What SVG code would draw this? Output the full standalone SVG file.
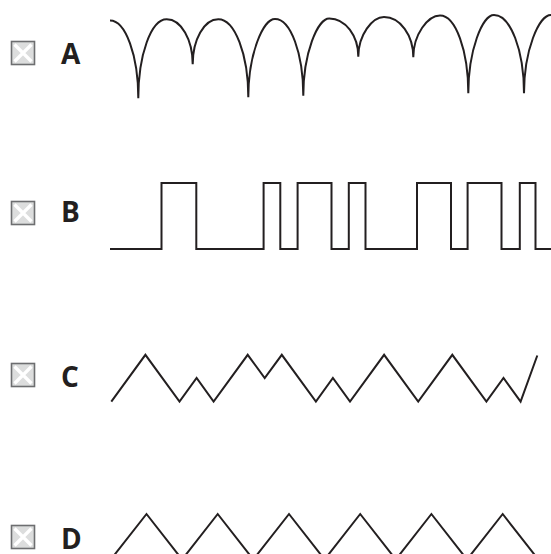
<svg xmlns="http://www.w3.org/2000/svg" width="551" height="554" viewBox="0 0 551 554">
<defs>
<style>
.wave{fill:none;stroke:#231f20;stroke-width:2;stroke-linejoin:miter}
.lbl{font-family:"Open Sans","Noto Sans","Liberation Sans",sans-serif;font-weight:700;font-size:28px;fill:#231f20}
.box{fill:#dcdddd;stroke:#6d6e70;stroke-width:1.6}
.x{stroke:#ffffff;stroke-width:3.2;stroke-linecap:butt}
</style>
<g id="cb">
<rect class="box" x="0" y="0" width="23" height="23"/>
<path class="x" d="M3,3 L20,20 M20,3 L3,20"/>
</g>
</defs>
<g id="optA">
<use href="#cb" x="11.5" y="41.5"/>
<text class="lbl" x="61" y="64">A</text>
</g>
<g id="optB">
<use href="#cb" x="11.5" y="201.5"/>
<text class="lbl" x="61" y="222">B</text>
</g>
<g id="optC">
<use href="#cb" x="11.5" y="363.5"/>
<text class="lbl" x="61" y="387">C</text>
</g>
<g id="optD">
<use href="#cb" x="11.5" y="525.5"/>
<text class="lbl" x="61" y="549">D</text>
</g>
<g id="waves">
<path id="waveA" class="wave" d="M110,20.5 C125.6,20.5 138.3,55.5 138.3,98.3 C138.3,54.9 151.1,19.3 166.7,19.3 C181,19.3 192.7,39.5 192.7,64.3 C192.7,39.5 204.2,19.3 218.3,19.3 C234.8,19.3 248.3,54.4 248.3,97.3 C248.3,54.2 263,19 275,19 C290.6,19 303.3,53.5 303.3,95.7 C303.3,53.2 317.6,18.5 329.3,18.5 C345.3,18.5 358.3,35.7 358.3,56.7 C358.3,34.9 372.4,17 384,17 C400.1,17 413.3,35.1 413.3,57.3 C413.3,34.3 428,15.5 440,15.5 C455.6,15.5 468.3,50.5 468.3,93.3 C468.3,50.2 482.4,15 494,15 C510.5,15 524,50.2 524,93.3 C524,50.2 538.9,15 551,15"/>
<path id="waveB" class="wave" d="M110,249 H161.5 V183 H196.3 V249 H263.6 V183 H280.3 V249 H297.6 V183 H331.5 V249 H348.8 V183 H365.5 V249 H417 V183 H451 V249 H467.6 V183 H501.5 V249 H519.8 V183 H535.5 V249 H551"/>
<path id="waveC" class="wave" d="M111.3,401.6 L145.4,354.8 L179.5,401.6 L196.6,378 L213.6,401.6 L247.7,354.8 L264.7,378 L281.8,354.8 L315.9,401.6 L332.9,378 L350,401.6 L384.1,354.8 L418.2,401.6 L452.3,354.8 L486.4,401.6 L503.5,378 L520.6,401.6 L537.3,355.5"/>
<path id="waveD" class="wave" d="M110.8,559.5 L146.5,514 L182.1,559.5 L217.7,514 L253.3,559.5 L289,514 L324.6,559.5 L360.2,514 L395.8,559.5 L431.4,514 L467,559.5 L502.7,514 L538.3,559.5"/>
</g>
</svg>
